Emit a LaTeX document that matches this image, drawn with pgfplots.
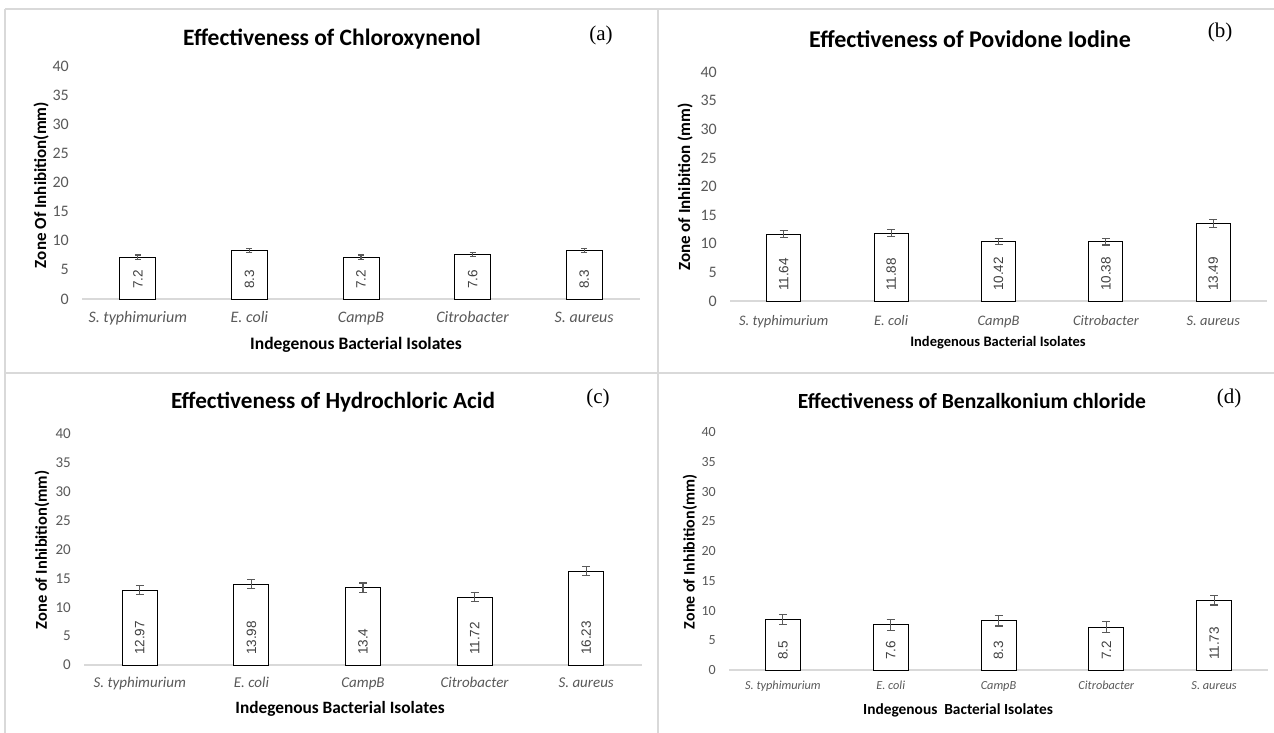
\documentclass[border=0pt]{standalone}
\usepackage{pgfplots}
\pgfplotsset{compat=1.18}
\usepackage{pgfplotstable}
\usepackage{fontspec}
\setmainfont{Carlito}
\newfontfamily\arialf{Liberation Sans}
\newfontfamily\tnrf{Liberation Serif}
\definecolor{tickgray}{HTML}{595959}
\definecolor{errgray}{HTML}{595959}
\definecolor{framegray}{HTML}{D9D9D9}
\definecolor{valgray}{HTML}{404040}

\pgfplotstableread{
x v e z
0 7.2 0.35 0
1 8.3 0.35 0
2 7.2 0.35 0
3 7.6 0.35 0
4 8.3 0.35 0
}\dataA
\pgfplotstableread{
x v e z
0 11.64 0.6 0
1 11.88 0.65 0
2 10.42 0.5 0
3 10.38 0.6 0
4 13.49 0.7 0
}\dataB
\pgfplotstableread{
x v e z
0 12.97 0.8 0
1 13.98 0.8 0
2 13.4 0.8 0
3 11.72 0.8 0
4 16.23 0.8 0
}\dataC
\pgfplotstableread{
x v e z
0 8.5 0.9 0
1 7.6 0.9 0
2 8.3 0.9 0
3 7.2 0.9 0
4 11.73 0.8 0
}\dataD

\pgfplotsset{
  panel/.style n args={3}{
    scale only axis, anchor=south west,
    xmin=-0.5, xmax=4.5, ymin=0, ymax=40,
    axis lines*=left,
    y axis line style={draw=none},
    x axis line style={draw=framegray, line width=1.5pt},
    tick style={draw=none}, major tick length=0pt,
    ytick={0,5,...,40},
    xtick={0,1,2,3,4},
    xticklabels={S. typhimurium, E. coli, CampB, Citrobacter, S. aureus},
    /pgf/number format/assume math mode=true,
    yticklabel style={font=\fontsize{#3}{18}\selectfont, text=tickgray, inner sep=0pt, anchor=east, xshift=-13pt},
    xticklabel style={font=\fontsize{#1}{18}\selectfont\itshape, text=tickgray, inner sep=0pt, anchor=base, yshift=-#2},
    clip=false,
  },
  bars/.style 2 args={ybar, bar width=#1, fill=white, draw=black, line width=0.9pt,
     error bars/y dir=both, error bars/y explicit,
     error bars/error bar style={draw=errgray, line width=1.1pt},
     error bars/error mark options={rotate=90, mark size=#2, line width=1.1pt, draw=errgray}},
  vals/.style={draw=none, mark=none, nodes near coords={\pgfplotspointmeta}, point meta=explicit symbolic,
     nodes near coords style={rotate=90, anchor=west, inner ysep=0pt, inner xsep=10pt,
       font=\arialf\fontsize{13.5}{15}\selectfont, text=valgray}},
}

\begin{document}
\begin{tikzpicture}
\path[use as bounding box, fill=white] (0pt,0pt) rectangle (1274pt,-733pt);
% frames
\draw[framegray, line width=1.5pt] (5pt,-9pt) -- (1274pt,-9pt);
\draw[framegray, line width=1.5pt] (5pt,-9pt) -- (5pt,-733pt);
\draw[framegray, line width=1.5pt] (658pt,-9pt) -- (658pt,-733pt);
\draw[framegray, line width=1.5pt] (5pt,-373pt) -- (1274pt,-373pt);

% (a)
\begin{axis}[panel={16}{23.5pt}{16}, at={(82pt,-299pt)}, width=558pt, height=233pt]
\addplot[bars={36pt}{3pt}] table[x=x, y=v, y error=e] {\dataA};
\addplot[vals] table[x=x, y=z, meta=v] {\dataA};
\end{axis}
\node[font=\bfseries\fontsize{23.5}{26}\selectfont] at (332pt,-39pt) {Effectiveness of Chloroxynenol};
\node[font=\tnrf\fontsize{21}{24}\selectfont] at (601pt,-35pt) {(a)};
\node[font=\bfseries\fontsize{17}{19}\selectfont, rotate=90] at (41pt,-185pt) {Zone Of Inhibition(mm)};
\node[font=\bfseries\fontsize{17.5}{20}\selectfont] at (356pt,-345pt) {Indegenous Bacterial Isolates};

% (b)
\begin{axis}[panel={14.5}{24pt}{16}, at={(730pt,-301pt)}, width=537pt, height=229pt]
\addplot[bars={34pt}{4pt}] table[x=x, y=v, y error=e] {\dataB};
\addplot[vals] table[x=x, y=z, meta=v] {\dataB};
\end{axis}
\node[font=\bfseries\fontsize{24}{27}\selectfont] at (970pt,-39pt) {Effectiveness of Povidone Iodine};
\node[font=\tnrf\fontsize{21}{24}\selectfont] at (1220pt,-32pt) {(b)};
\node[font=\bfseries\fontsize{17}{19}\selectfont, rotate=90] at (685pt,-187pt) {Zone of Inhibition (mm)};
\node[font=\bfseries\fontsize{14.5}{17}\selectfont] at (998pt,-343pt) {Indegenous Bacterial Isolates};

% (c)
\begin{axis}[panel={15}{22.5pt}{15}, at={(84pt,-665pt)}, width=558pt, height=231pt]
\addplot[bars={35pt}{4pt}] table[x=x, y=v, y error=e] {\dataC};
\addplot[vals] table[x=x, y=z, meta=v] {\dataC};
\end{axis}
\node[font=\bfseries\fontsize{23.2}{26}\selectfont] at (333pt,-402pt) {Effectiveness of Hydrochloric Acid};
\node[font=\tnrf\fontsize{21}{24}\selectfont] at (598pt,-398pt) {(c)};
\node[font=\bfseries\fontsize{16.5}{19}\selectfont, rotate=90] at (42pt,-550pt) {Zone of Inhibition(mm)};
\node[font=\bfseries\fontsize{17.3}{20}\selectfont] at (340pt,-709pt) {Indegenous Bacterial Isolates};

% (d)
\begin{axis}[panel={12.3}{19.5pt}{14}, at={(729pt,-670pt)}, width=539pt, height=238pt]
\addplot[bars={35pt}{4pt}] table[x=x, y=v, y error=e] {\dataD};
\addplot[vals] table[x=x, y=z, meta=v] {\dataD};
\end{axis}
\node[font=\bfseries\fontsize{21.6}{24}\selectfont] at (972pt,-401pt) {Effectiveness of Benzalkonium chloride};
\node[font=\tnrf\fontsize{21}{24}\selectfont] at (1229pt,-398pt) {(d)};
\node[font=\bfseries\fontsize{16}{18}\selectfont, rotate=90] at (690pt,-552pt) {Zone of Inhibition(mm)};
\node[font=\bfseries\fontsize{15.4}{18}\selectfont] at (958pt,-710pt) {Indegenous\ \ Bacterial Isolates};
\end{tikzpicture}
\end{document}
